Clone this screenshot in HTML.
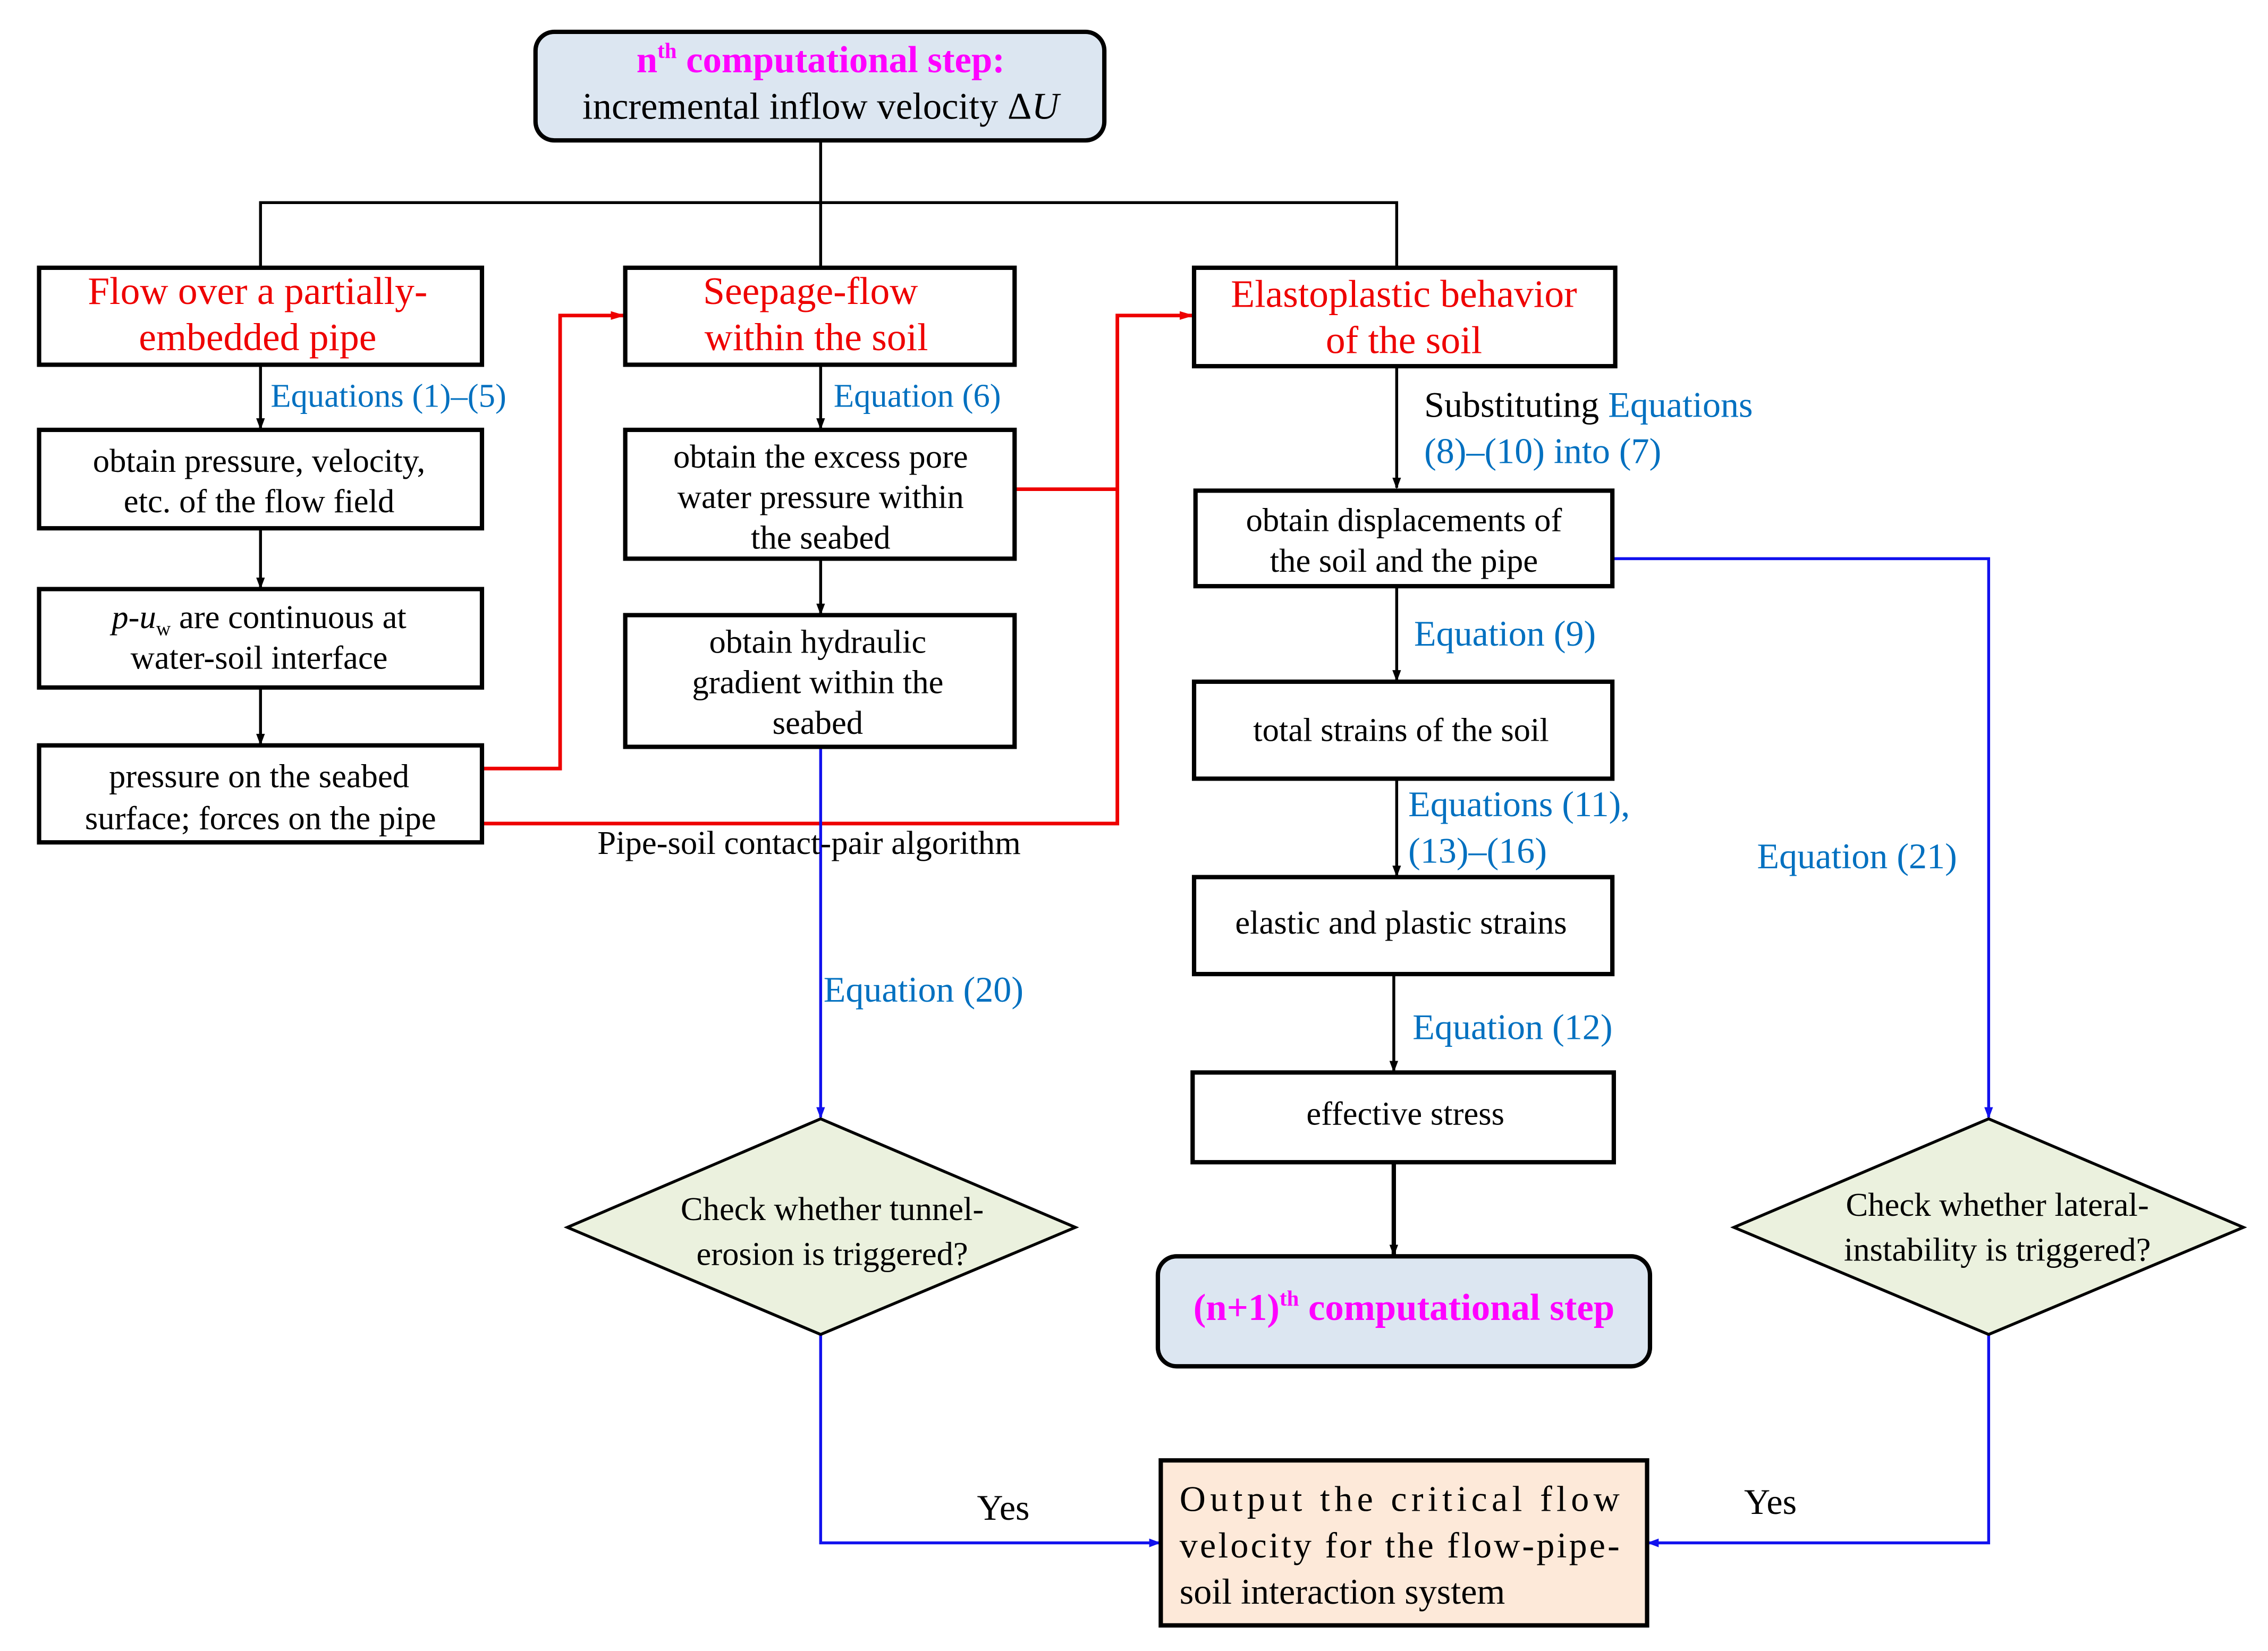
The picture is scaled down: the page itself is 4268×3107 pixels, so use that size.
<!DOCTYPE html>
<html><head><meta charset="utf-8"><style>html,body{margin:0;padding:0;background:#fff}svg{display:block}</style></head>
<body>
<svg width="4268" height="3107" viewBox="0 0 1567 1140.7" preserveAspectRatio="none" xmlns="http://www.w3.org/2000/svg" font-family="Liberation Serif, serif">
<defs>
<marker id="ak" markerWidth="8" markerHeight="8" refX="7" refY="4" orient="auto" markerUnits="userSpaceOnUse"><path d="M0,1 L8,4 L0,7 Z" fill="#000"/></marker>
<marker id="ar" markerWidth="10" markerHeight="8" refX="9" refY="4" orient="auto" markerUnits="userSpaceOnUse"><path d="M0,1 L10,4 L0,7 Z" fill="#e00"/></marker>
<marker id="ab" markerWidth="8" markerHeight="8" refX="7" refY="4" orient="auto" markerUnits="userSpaceOnUse"><path d="M0,1 L8,4 L0,7 Z" fill="#11e"/></marker>
</defs>
<g fill="none" stroke="#000" stroke-width="2">
<path d="M567,97 V140 M180,185 V140 H965 V185 M567,140 V185"/>
<path d="M180,252 V296" marker-end="url(#ak)"/>
<path d="M180,365 V406" marker-end="url(#ak)"/>
<path d="M180,475 V514" marker-end="url(#ak)"/>
<path d="M567,252 V296" marker-end="url(#ak)"/>
<path d="M567,386 V424" marker-end="url(#ak)"/>
<path d="M965,253 V337" marker-end="url(#ak)"/>
<path d="M965,405 V470" marker-end="url(#ak)"/>
<path d="M965,538 V605" marker-end="url(#ak)"/>
<path d="M963,673 V740" marker-end="url(#ak)"/>
<path d="M963,803 V867" stroke-width="3" marker-end="url(#ak)"/>
</g>
<g fill="none" stroke="#e00" stroke-width="2.5">
<path d="M333,531 H387 V218 H431" marker-end="url(#ar)"/>
<path d="M333,569 H772 V218 H824" marker-end="url(#ar)"/>
<path d="M701,338 H772"/>
</g>
<g fill="none" stroke="#11e" stroke-width="2">
<path d="M567,516 V772" marker-end="url(#ab)"/>
<path d="M567,922 V1066 H801" marker-end="url(#ab)"/>
<path d="M1114,386 H1374 V772" marker-end="url(#ab)"/>
<path d="M1374,922 V1066 H1139" marker-end="url(#ab)"/>
</g>
<rect x="370" y="22" width="393" height="75" rx="13" fill="#dce6f1" stroke="#000" stroke-width="3"/>
<rect x="800" y="868" width="340" height="76" rx="13" fill="#dce6f1" stroke="#000" stroke-width="3"/>
<rect x="802" y="1009" width="336" height="114" fill="#fde9d9" stroke="#000" stroke-width="3"/>
<polygon points="567,773 743,848 567,922 392,848" fill="#ebf1de" stroke="#000" stroke-width="2"/>
<polygon points="1374,773 1550,848 1374,922 1198,848" fill="#ebf1de" stroke="#000" stroke-width="2"/>
<g fill="#fff" stroke="#000" stroke-width="3">
<rect x="27" y="185" width="306" height="67"/>
<rect x="432" y="185" width="269" height="67"/>
<rect x="825" y="185" width="291" height="68"/>
<rect x="27" y="297" width="306" height="68"/>
<rect x="27" y="407" width="306" height="68"/>
<rect x="27" y="515" width="306" height="67"/>
<rect x="432" y="297" width="269" height="89"/>
<rect x="432" y="425" width="269" height="91"/>
<rect x="826" y="339" width="288" height="66"/>
<rect x="825" y="471" width="289" height="67"/>
<rect x="825" y="606" width="289" height="67"/>
<rect x="824" y="741" width="291" height="62"/>
</g>
<g text-anchor="middle" font-size="26">
<text x="567" y="50" fill="#f0f"><tspan font-weight="bold">n</tspan><tspan font-size="15" dy="-10" font-weight="bold">th</tspan><tspan dy="10" font-weight="bold"> computational step:</tspan></text>
<text x="567" y="82" fill="#000">incremental inflow velocity Δ<tspan font-style="italic">U</tspan></text>
<text x="970" y="912" fill="#f0f" font-weight="bold">(n+1)<tspan font-size="15" dy="-10">th</tspan><tspan dy="10"> computational step</tspan></text>
<g fill="#e00" font-size="27">
<text x="178" y="210">Flow over a partially-</text><text x="178" y="242">embedded pipe</text>
<text x="560" y="210">Seepage-flow</text><text x="564" y="242">within the soil</text>
<text x="970" y="212">Elastoplastic behavior</text><text x="970" y="244">of the soil</text>
</g>
</g>
<g text-anchor="middle" font-size="23" fill="#000">
<text x="179" y="326">obtain pressure, velocity,</text><text x="179" y="354">etc. of the flow field</text>
<text x="179" y="434"><tspan font-style="italic">p-u</tspan><tspan font-size="14" dy="5">w</tspan><tspan dy="-5"> are continuous at</tspan></text><text x="179" y="462">water-soil interface</text>
<text x="179" y="544">pressure on the seabed</text><text x="180" y="573">surface;  forces on the pipe</text>
<text x="567" y="323">obtain the excess pore</text><text x="567" y="351">water pressure within</text><text x="567" y="379">the seabed</text>
<text x="565" y="451">obtain hydraulic</text><text x="565" y="479">gradient within the</text><text x="565" y="507">seabed</text>
<text x="970" y="367">obtain displacements of</text><text x="970" y="395">the soil and the pipe</text>
<text x="968" y="512">total strains of the soil</text>
<text x="968" y="645">elastic and plastic strains</text>
<text x="971" y="777">effective stress</text>
<text x="575" y="843">Check whether tunnel-</text><text x="575" y="874">erosion is triggered?</text>
<text x="1380" y="840">Check whether lateral-</text><text x="1380" y="871">instability is triggered?</text>
<text x="559" y="590">Pipe-soil contact-pair algorithm</text>
</g>
<g font-size="25" fill="#000">
<text x="815" y="1044" textLength="304" lengthAdjust="spacing">Output the critical flow</text>
<text x="815" y="1076" textLength="304" lengthAdjust="spacing">velocity for the flow-pipe-</text>
<text x="815" y="1108">soil interaction system</text>
<text x="675" y="1050">Yes</text>
<text x="1205" y="1046">Yes</text>
<text x="984" y="288">Substituting <tspan fill="#0070c0">Equations</tspan></text>
</g>
<g font-size="23" fill="#0070c0">
<text x="187" y="281">Equations (1)–(5)</text>
<text x="576" y="281">Equation (6)</text>
</g>
<g font-size="25" fill="#0070c0">
<text x="984" y="320">(8)–(10) into (7)</text>
<text x="977" y="446">Equation (9)</text>
<text x="973" y="564">Equations (11),</text>
<text x="973" y="596">(13)–(16)</text>
<text x="976" y="718">Equation (12)</text>
<text x="569" y="692">Equation (20)</text>
<text x="1214" y="600">Equation (21)</text>
</g>
</svg>
</body></html>
